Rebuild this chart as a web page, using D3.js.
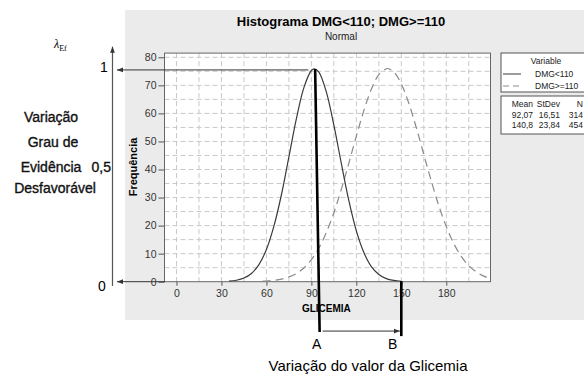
<!DOCTYPE html>
<html>
<head>
    <title>Histograma DMG</title>
    <script src="https://d3js.org/d3.v7.min.js"></script>
    <style>
        body { margin: 0; background: #fff; }
        svg text { font-family: "Liberation Sans", Arial, sans-serif; }
        .grid line { stroke: #c9c9c9; stroke-dasharray: 5,3; }
        .tick-label { font-size: 10.5px; fill: #333; }
        .side { font-size: 14px; fill: #111; stroke: #111; stroke-width: 0.35px; }
    </style>
</head>
<body>
    <svg id="chart" width="584" height="378"></svg>

    <script>
        // fitted normal curves (frequency per 10 units)
        var dmgLowX = [35, 40, 45, 50, 55, 60, 65, 70, 75, 80, 85, 90, 92, 95, 100, 105, 110, 115, 120, 125, 130, 135, 140, 145, 150];
        var dmgLowY = [0.19, 0.53, 1.3, 2.95, 6.1, 11.5, 19.8, 31.0, 44.5, 58.1, 69.2, 75.3, 75.9, 74.7, 67.6, 55.8, 42.1, 28.9, 18.1, 10.4, 5.4, 2.6, 1.1, 0.45, 0.16];
        var dmgHighX = [57.5, 60, 65, 70, 75, 80, 85, 90, 95, 100, 105, 110, 115, 120, 125, 130, 135, 140, 141, 145, 150, 155, 160, 165, 170, 175, 180, 185, 190, 195, 200, 205, 210, 215];
        var dmgHighY = [0.17, 0.24, 0.49, 0.92, 1.7, 2.9, 4.9, 7.9, 12.0, 17.6, 24.6, 33.0, 42.3, 51.9, 61.0, 68.6, 73.8, 75.9, 76.0, 74.8, 70.5, 63.6, 54.9, 45.4, 35.9, 27.1, 19.7, 13.6, 9.0, 5.7, 3.5, 2.0, 1.1, 0.6];

        var xTicks = [0, 30, 60, 90, 120, 150, 180];
        var yTicks = [0, 10, 20, 30, 40, 50, 60, 70, 80];
        var xGrid = d3.range(0, 196, 15);
        var yGrid = d3.range(5, 81, 5);

        var legendNames = ["DMG<110", "DMG>=110"];
        var statHead = ["Mean", "StDev", "N"];
        var statRows = [["92,07", "16,51", "314"], ["140,8", "23,84", "454"]];

        var leftLines = ["Variação", "Grau de", "Evidência", "Desfavorável"];

        var svg = d3.select("#chart");

        // grey minitab panel
        svg.append("rect")
            .attr("x", 125).attr("y", 10)
            .attr("width", 459).attr("height", 310)
            .attr("fill", "#ebebeb");

        var x = d3.scaleLinear().domain([-8, 209.5]).range([164.5, 490.5]);
        var y = d3.scaleLinear().domain([0, 81.5]).range([281.7, 53.1]);

        var px0 = x.range()[0], px1 = x.range()[1];
        var py0 = y.range()[1], py1 = y.range()[0];

        svg.append("defs").append("clipPath").attr("id", "plotclip")
            .append("rect")
            .attr("x", px0).attr("y", py0)
            .attr("width", px1 - px0).attr("height", py1 - py0);

        var defs = svg.select("defs");
        defs.append("marker")
            .attr("id", "arr")
            .attr("viewBox", "0 0 10 10")
            .attr("refX", 10).attr("refY", 5)
            .attr("markerWidth", 6).attr("markerHeight", 6)
            .attr("markerUnits", "userSpaceOnUse")
            .attr("orient", "auto-start-reverse")
            .append("path")
            .attr("d", "M0,1L10,5L0,9Z")
            .attr("fill", "#333");

        // plot background
        svg.append("rect")
            .attr("x", px0).attr("y", py0)
            .attr("width", px1 - px0).attr("height", py1 - py0)
            .attr("fill", "#fff");

        // dashed grid
        var grid = svg.append("g").attr("class", "grid");
        grid.selectAll(".gx").data(xGrid).enter().append("line")
            .attr("x1", d => x(d)).attr("x2", d => x(d))
            .attr("y1", py0).attr("y2", py1);
        grid.selectAll(".gy").data(yGrid).enter().append("line")
            .attr("x1", px0).attr("x2", px1)
            .attr("y1", d => y(d)).attr("y2", d => y(d));

        // axes
        var xAxis = svg.append("g")
            .attr("transform", "translate(0," + py1 + ")")
            .call(d3.axisBottom(x).tickValues(xTicks).tickSize(4).tickPadding(4));
        var yAxis = svg.append("g")
            .attr("transform", "translate(" + px0 + ",0)")
            .call(d3.axisLeft(y).tickValues(yTicks).tickSize(6).tickPadding(2));
        [xAxis, yAxis].forEach(function(a) {
            a.select(".domain").remove();
            a.selectAll("line").attr("stroke", "#555");
            a.selectAll("text").attr("class", "tick-label")
                .style("font-family", "Liberation Sans, Arial, sans-serif");
        });

        // plot frame
        svg.append("rect")
            .attr("x", px0).attr("y", py0)
            .attr("width", px1 - px0).attr("height", py1 - py0)
            .attr("fill", "none").attr("stroke", "#666");

        // curves
        var line = d3.line()
            .x(d => x(d[0])).y(d => y(d[1]))
            .curve(d3.curveCatmullRom);

        var curves = svg.append("g").attr("clip-path", "url(#plotclip)");
        curves.append("path")
            .datum(d3.zip(dmgHighX, dmgHighY))
            .attr("d", line)
            .attr("fill", "none").attr("stroke", "#8a8a8a")
            .attr("stroke-width", 1.2).attr("stroke-dasharray", "8,5");
        curves.append("path")
            .datum(d3.zip(dmgLowX, dmgLowY))
            .attr("d", line)
            .attr("fill", "none").attr("stroke", "#3a3a3a")
            .attr("stroke-width", 1.2);

        // titles
        svg.append("text")
            .attr("x", 341).attr("y", 26)
            .attr("text-anchor", "middle")
            .attr("font-size", 13).attr("font-weight", "bold")
            .text("Histograma DMG<110; DMG>=110");
        svg.append("text")
            .attr("x", 341).attr("y", 40)
            .attr("text-anchor", "middle")
            .attr("font-size", 10).attr("fill", "#222")
            .text("Normal");
        svg.append("text")
            .attr("x", x(100)).attr("y", 312)
            .attr("text-anchor", "middle")
            .attr("font-size", 10).attr("font-weight", "bold")
            .text("GLICEMIA");
        svg.append("text")
            .attr("transform", "translate(137,167) rotate(-90)")
            .attr("text-anchor", "middle")
            .attr("font-size", 11).attr("font-weight", "bold")
            .text("Frequência");

        // legend boxes
        var lg = svg.append("g").attr("font-size", 8.5).attr("fill", "#222");
        lg.append("rect").attr("x", 501).attr("y", 53).attr("width", 90).attr("height", 39)
            .attr("fill", "#fff").attr("stroke", "#555");
        lg.append("text").attr("x", 546).attr("y", 64).attr("text-anchor", "middle").text("Variable");
        legendNames.forEach(function(n, i) {
            var yy = 74 + i * 12;
            lg.append("line")
                .attr("x1", 503).attr("x2", 521).attr("y1", yy).attr("y2", yy)
                .attr("stroke", i ? "#8a8a8a" : "#3a3a3a")
                .attr("stroke-dasharray", i ? "6,4" : null);
            lg.append("text").attr("x", 535).attr("y", yy + 3).text(n);
        });
        lg.append("rect").attr("x", 501).attr("y", 96).attr("width", 90).attr("height", 38)
            .attr("fill", "#fff").attr("stroke", "#555");
        var colX = [533, 560, 583];
        statHead.forEach(function(h, j) {
            lg.append("text").attr("x", colX[j]).attr("y", 107).attr("text-anchor", "end").text(h);
        });
        statRows.forEach(function(r, i) {
            r.forEach(function(v, j) {
                lg.append("text").attr("x", colX[j]).attr("y", 118 + i * 10)
                    .attr("text-anchor", "end").text(v);
            });
        });

        // ---- annotations on top of the minitab chart ----
        // outer lambda axis: 0 matches frequency 0, 1 matches the peak
        var lamX = -42.7;
        var yL = d3.scaleLinear().domain([0, 1]).range([y(0), y(75.5)]);
        var ann = svg.append("g");

        ann.append("line")
            .attr("x1", x(lamX)).attr("x2", x(lamX))
            .attr("y1", yL(-0.02)).attr("y2", yL(1.11))
            .attr("stroke", "#555").attr("stroke-width", 1.2)
            .attr("marker-end", "url(#arr)");

        // arrows pointing to the lambda axis
        ann.append("line")
            .attr("x1", x(88)).attr("x2", x(-39.7))
            .attr("y1", yL(1)).attr("y2", yL(1))
            .attr("stroke", "#333").attr("stroke-width", 1)
            .attr("marker-end", "url(#arr)");
        ann.append("line")
            .attr("x1", px0).attr("x2", x(-39.7))
            .attr("y1", yL(0)).attr("y2", yL(0))
            .attr("stroke", "#333").attr("stroke-width", 1)
            .attr("marker-end", "url(#arr)");

        // A and B markers below the x axis
        ann.append("line")
            .attr("x1", x(92.5)).attr("x2", x(95.5))
            .attr("y1", y(75.8)).attr("y2", y(-17.9))
            .attr("stroke", "#000").attr("stroke-width", 2.6);
        ann.append("line")
            .attr("x1", x(150)).attr("x2", x(150))
            .attr("y1", y(0.2)).attr("y2", y(-19.4))
            .attr("stroke", "#000").attr("stroke-width", 2.6);
        ann.append("line")
            .attr("x1", x(97.5)).attr("x2", x(149))
            .attr("y1", y(-17.6)).attr("y2", y(-17.6))
            .attr("stroke", "#333").attr("stroke-width", 1)
            .attr("marker-end", "url(#arr)");

        ann.append("text").attr("x", x(93.5)).attr("y", 349)
            .attr("text-anchor", "middle").attr("font-size", 14).text("A");
        ann.append("text").attr("x", x(144.3)).attr("y", 349)
            .attr("text-anchor", "middle").attr("font-size", 14).text("B");
        ann.append("text").attr("x", 368).attr("y", 371)
            .attr("text-anchor", "middle").attr("font-size", 15)
            .text("Variação do valor da Glicemia");

        // left labels
        ann.append("text").attr("x", 104).attr("y", 72)
            .attr("text-anchor", "middle").attr("font-size", 14).text("1");
        ann.append("text").attr("x", 102).attr("y", 291)
            .attr("text-anchor", "middle").attr("font-size", 14).text("0");
        ann.append("text").attr("class", "side").attr("x", 111).attr("y", 172)
            .attr("text-anchor", "end").text("0,5");

        var leftX = [51, 53, 51, 55];
        var leftY = [122, 147, 172, 193];
        leftLines.forEach(function(t, i) {
            ann.append("text").attr("class", "side")
                .attr("x", leftX[i]).attr("y", leftY[i])
                .attr("text-anchor", "middle")
                .text(t);
        });

        var lam = ann.append("text").attr("x", 54).attr("y", 48)
            .style("font-family", "Liberation Serif, serif")
            .attr("font-size", 12).attr("font-style", "italic");
        lam.append("tspan").text("λ");
        lam.append("tspan").attr("dy", 3).attr("font-size", 8).attr("font-style", "normal").text("Εf");
    </script>
</body>
</html>
